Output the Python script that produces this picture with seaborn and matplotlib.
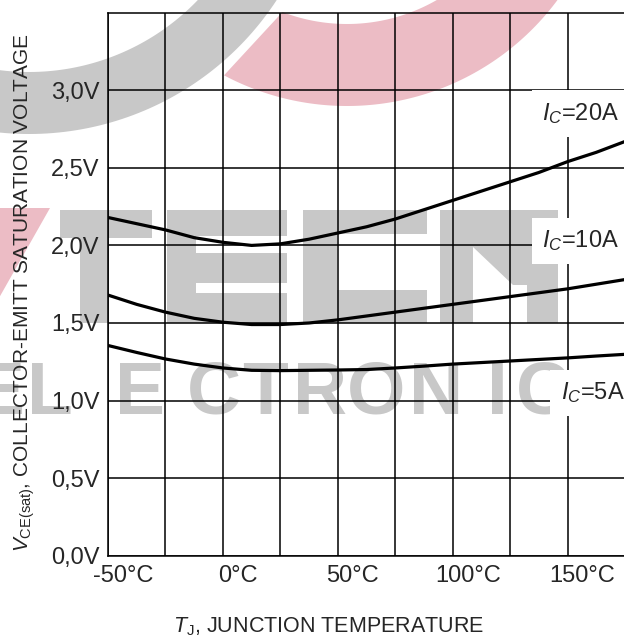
import numpy as np
import pandas as pd
import matplotlib
matplotlib.use("Agg")
import matplotlib.pyplot as plt
import seaborn as sns
from matplotlib.patches import Polygon, Rectangle
from matplotlib.transforms import ScaledTranslation

# ---------------- data ----------------
temps = [-50, -37.5, -25, -12.5, 0, 12.5, 25, 37.5, 50, 62.5, 75, 87.5,
         100, 112.5, 125, 137.5, 150, 162.5, 175]
v_ic20 = [2.18, 2.14, 2.10, 2.05, 2.02, 2.00, 2.01, 2.04, 2.08, 2.12, 2.17,
          2.23, 2.29, 2.35, 2.41, 2.47, 2.54, 2.60, 2.67]
v_ic10 = [1.68, 1.62, 1.57, 1.53, 1.505, 1.49, 1.49, 1.50, 1.52, 1.545, 1.57,
          1.595, 1.62, 1.645, 1.67, 1.695, 1.72, 1.75, 1.78]
v_ic5 = [1.355, 1.31, 1.268, 1.235, 1.21, 1.195, 1.193, 1.195, 1.197, 1.20,
         1.21, 1.222, 1.235, 1.245, 1.255, 1.265, 1.275, 1.287, 1.298]
series_names = ["20A", "10A", "5A"]
series_labels = [r"$I_C$=20A", r"$I_C$=10A", r"$I_C$=5A"]
label_t = [139, 139, 147]
label_v = [2.85, 2.03, 1.05]

x_ticks = [-50, -25, 0, 25, 50, 75, 100, 125, 150, 175]
x_tick_labels = ["-50°C", "", "0°C", "", "50°C", "", "100°C", "", "150°C", ""]
y_ticks = [0.0, 0.5, 1.0, 1.5, 2.0, 2.5, 3.0]
y_tick_labels = ["0,0V", "0,5V", "1,0V", "1,5V", "2,0V", "2,5V", "3,0V"]

df = pd.DataFrame({
    "T": temps * 3,
    "V": v_ic20 + v_ic10 + v_ic5,
    "Ic": [series_names[0]] * len(temps) + [series_names[1]] * len(temps)
          + [series_names[2]] * len(temps),
})

# ---------------- style ----------------
sns.set_style("white")
plt.rcParams["font.family"] = ["Liberation Sans", "DejaVu Sans"]
plt.rcParams["mathtext.fontset"] = "custom"
plt.rcParams["mathtext.rm"] = "Liberation Sans"
plt.rcParams["mathtext.it"] = "Liberation Sans:italic"
plt.rcParams["mathtext.bf"] = "Liberation Sans:bold"

W, H = 624, 639
fig = plt.figure(figsize=(W / 100, H / 100), dpi=100, facecolor="white")

# ---------------- watermark (background, pixel coords) ----------------
wm = fig.add_axes([0, 0, 1, 1], zorder=0)
wm.set_xlim(0, W)
wm.set_ylim(H, 0)
wm.axis("off")
gray = "#c8c8c8"
pink = "#ecbcc5"


def ring(cx, cy, r_out, r_in, a0, a1, b0, b1):
    ta = np.radians(np.linspace(a0, a1, 120))
    tb = np.radians(np.linspace(b0, b1, 120))
    outer = np.c_[cx + r_out * np.cos(ta), cy + r_out * np.sin(ta)]
    inner = np.c_[cx + r_in * np.cos(tb), cy + r_in * np.sin(tb)]
    return np.vstack([outer, inner])


wm.add_patch(Polygon(ring(29, -162, 296, 234, 15, 150, 150, 15),
                     closed=True, fc=gray, ec="none"))
wm.add_patch(Polygon(ring(347, -156, 262, 180, 118, 5, 5, 111),
                     closed=True, fc=pink, ec="none"))
wm.add_patch(Polygon([(-5, 208), (50, 208), (-5, 305)], closed=True,
                     fc=pink, ec="none"))
# TECH blocks
for (x0, y0, x1, y1) in [(60, 210, 152, 238), (80, 210, 108, 323),
                         (167, 210, 287, 236), (167, 253, 287, 283),
                         (167, 293, 287, 323), (167, 210, 196, 323),
                         (303, 210, 427, 234), (303, 290, 427, 323),
                         (303, 210, 337, 323),
                         (440, 210, 473, 323), (527, 210, 558, 323)]:
    wm.add_patch(Rectangle((x0, y0), x1 - x0, y1 - y0, fc=gray, ec="none"))
wm.add_patch(Polygon([(473, 210), (527, 210), (527, 285), (513, 285), (473, 247)],
                     closed=True, fc=gray, ec="none"))
# ELECTRONIC letters
for ch, xc in zip("ELECTRONIC", [0, 50, 140, 214, 265, 320, 376, 436, 497, 543]):
    wm.text(xc, 414, ch, ha="center", va="baseline", fontsize=54,
            fontweight="bold", color=gray, family="Liberation Sans")

# ---------------- main axes ----------------
ax = fig.add_axes([108 / W, 1 - 555.7 / H, (625 - 108) / W, (555.7 - 12.7) / H], zorder=1)
ax.patch.set_visible(False)

sns.lineplot(data=df, x="T", y="V", units="Ic", estimator=None, color="black",
             linewidth=2.3, ax=ax, zorder=3, legend=False)

ax.set_xlim(-50, 175)
ax.set_ylim(0, 3.5)
ax.set_xticks(x_ticks)
ax.set_xticklabels(x_tick_labels, fontsize=17)
ax.set_yticks(y_ticks)
ax.set_yticklabels(y_tick_labels, fontsize=17)
ax.tick_params(length=0, pad=6)
ax.tick_params(axis="x", pad=7)
offset = ScaledTranslation(15 / 100, 0, fig.dpi_scale_trans)
for lab in ax.get_xticklabels():
    lab.set_transform(lab.get_transform() + offset)
ax.set_xlabel("")
ax.set_ylabel("")
ax.grid(True, color="black", linewidth=1.1)
ax.set_axisbelow(True)
for s in ["left", "bottom", "top"]:
    ax.spines[s].set_color("black")
    ax.spines[s].set_linewidth(1.1)
ax.spines["right"].set_visible(False)

for txt, t, v in zip(series_labels, label_t, label_v):
    ax.text(t, v, txt, ha="left", va="center", fontsize=17, zorder=2,
            bbox=dict(boxstyle="square,pad=0.45", fc="white", ec="none"))

fig.text(25 / W, 1 - 293 / H,
         r"$V_{\mathrm{CE(sat)}}$, COLLECTOR-EMITT SATURATION VOLTAGE",
         rotation=90, ha="center", va="center", fontsize=15)
fig.text(329 / W, 1 - 627 / H, r"$T_{\mathrm{J}}$, JUNCTION TEMPERATURE",
         ha="center", va="center", fontsize=15.5)

fig.savefig("out.png", dpi=100, facecolor="white")
